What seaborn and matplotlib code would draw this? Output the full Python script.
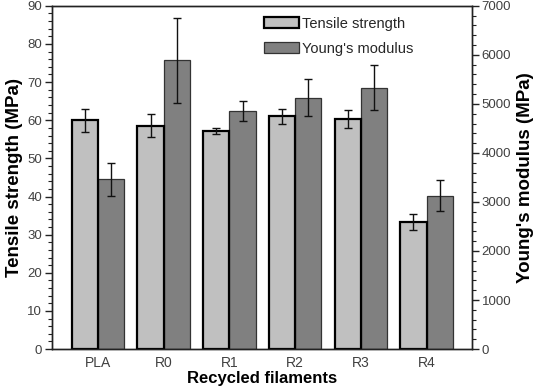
import pandas as pd
import numpy as np
import matplotlib
matplotlib.use('Agg')
import matplotlib.pyplot as plt
from matplotlib.patches import Patch
from matplotlib.ticker import MultipleLocator
import seaborn as sns

# Data
filaments = ['PLA', 'R0', 'R1', 'R2', 'R3', 'R4']
tensile = [60.0, 58.6, 57.2, 61.0, 60.3, 33.3]
tensile_err = [3.0, 3.1, 0.7, 2.0, 2.4, 2.1]
modulus = [3460, 5890, 4860, 5130, 5330, 3130]
modulus_err = [340, 870, 200, 385, 460, 310]

labels = ['Tensile strength', "Young's modulus"]
light, dark = '#c0c0c0', '#808080'
tick_color = '#404040'

sns.set_theme(style='white')
plt.rcParams['font.family'] = ['Liberation Sans', 'DejaVu Sans']

# long table: each axis only gets values for its own property (NaN otherwise),
# so both hue levels stay present and seaborn dodges the bars side by side
nan = [np.nan] * len(filaments)
df = pd.DataFrame({
    'Filament': filaments * 2,
    'Property': [labels[0]] * len(filaments) + [labels[1]] * len(filaments),
    'Tensile': tensile + nan,
    'Modulus': nan + modulus,
})

fig = plt.figure(figsize=(5.35, 3.9), dpi=100)
ax1 = fig.add_axes([0.0966, 0.105, 0.7856, 0.88])
ax2 = ax1.twinx()
# light bars (thick black edge) drawn above the dark ones
ax1.set_zorder(ax2.get_zorder() + 1)
ax1.patch.set_visible(False)

pal = {labels[0]: light, labels[1]: dark}
sns.barplot(data=df, x='Filament', y='Tensile', hue='Property', hue_order=labels,
            order=filaments, palette=pal, ax=ax1, width=0.8, errorbar=None,
            saturation=1, edgecolor='black', linewidth=1.6, legend=False)
sns.barplot(data=df, x='Filament', y='Modulus', hue='Property', hue_order=labels,
            order=filaments, palette=pal, ax=ax2, width=0.8, errorbar=None,
            saturation=1, edgecolor='#333333', linewidth=0.9, legend=False)

# error bars at bar centres
for ax, vals, errs in [(ax1, tensile, tensile_err), (ax2, modulus, modulus_err)]:
    bars = [p for p in ax.patches if np.isfinite(p.get_height()) and p.get_height() > 0]
    bars.sort(key=lambda p: p.get_x())
    xs = [p.get_x() + p.get_width() / 2 for p in bars]
    ax.errorbar(xs, vals, yerr=errs, fmt='none', ecolor='#111111',
                elinewidth=1.0, capsize=2.8, capthick=1.0, zorder=5)

ax1.set_xlim(-0.705, 5.69)
ax1.set_ylim(0, 90)
ax2.set_ylim(0, 7000)
ax1.yaxis.set_major_locator(MultipleLocator(10))
ax1.yaxis.set_minor_locator(MultipleLocator(2))
ax2.yaxis.set_major_locator(MultipleLocator(1000))
ax2.yaxis.set_minor_locator(MultipleLocator(200))

ax1.set_xlabel('Recycled filaments', fontsize=12, fontweight='bold', color='black', labelpad=1)
ax1.set_ylabel('Tensile strength (MPa)', fontsize=13.5, fontweight='bold', color='black', labelpad=3)
ax2.set_ylabel("Young's modulus (MPa)", fontsize=13.5, fontweight='bold', color='black', labelpad=4)

for ax in (ax1, ax2):
    ax.tick_params(axis='both', which='major', labelsize=9.5, labelcolor=tick_color,
                   color='#222222', length=5, width=1, pad=2)
    ax.tick_params(axis='y', which='minor', color='#222222', length=3, width=0.8)
    for s in ax.spines.values():
        s.set_color('#222222')
        s.set_linewidth(1.0)
ax1.tick_params(axis='x', which='both', length=0, pad=5, labelsize=10)
ax1.tick_params(axis='y', which='both', left=True, direction='out')
ax2.tick_params(axis='y', which='both', right=True, direction='out')

handles = [Patch(facecolor=light, edgecolor='black', linewidth=1.6),
           Patch(facecolor=dark, edgecolor='#333333', linewidth=0.9)]
ax1.legend(handles, labels, loc='upper left', bbox_to_anchor=(0.505, 0.968),
           frameon=False, fontsize=10.5, handlelength=2.4, handleheight=0.75,
           handletextpad=0.2, labelspacing=0.75, borderpad=0, borderaxespad=0)

fig.savefig('out.png', dpi=100)
